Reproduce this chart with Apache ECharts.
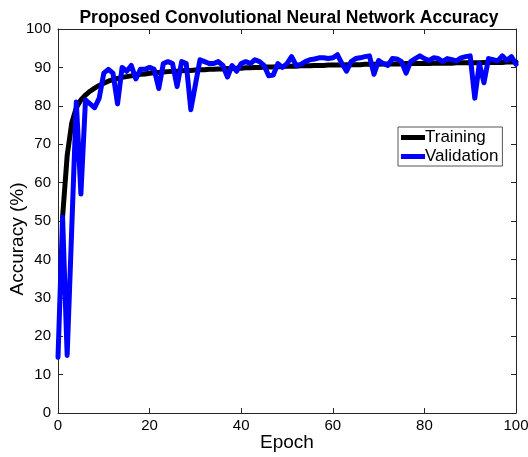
<!DOCTYPE html>
<html>
<head>
<meta charset="utf-8">
<script src="https://cdn.jsdelivr.net/npm/echarts@6/dist/echarts.min.js"></script>
<style>html,body{margin:0;padding:0;background:#fff}#c{width:528px;height:457px}</style>
</head>
<body>
<div id="c"></div>
<script>
const titleText = 'Proposed Convolutional Neural Network Accuracy';
const xLabel = 'Epoch';
const yLabel = 'Accuracy (%)';
const seriesNames = ['Training', 'Validation'];

// Training accuracy, epochs 1..100
const trainEpochStart = 1;
const training = [
  51, 67, 75.5, 79.5, 81.5, 82.8, 83.8, 84.6, 85.3, 85.9,
  86.4, 86.8, 87.1, 87.4, 87.6, 87.8, 88.0, 88.2, 88.3, 88.5,
  88.6, 88.7, 88.8, 88.9, 89.0, 89.0, 89.1, 89.2, 89.2, 89.3,
  89.4, 89.4, 89.5, 89.5, 89.6, 89.6, 89.7, 89.7, 89.8, 89.8,
  89.9, 89.9, 90.0, 90.0, 90.1, 90.1, 90.1, 90.2, 90.2, 90.3,
  90.3, 90.3, 90.4, 90.4, 90.4, 90.5, 90.5, 90.5, 90.6, 90.6,
  90.6, 90.6, 90.7, 90.7, 90.7, 90.7, 90.8, 90.8, 90.8, 90.8,
  90.9, 90.9, 90.9, 90.9, 90.9, 91.0, 91.0, 91.0, 91.0, 91.0,
  91.0, 91.1, 91.1, 91.1, 91.1, 91.1, 91.2, 91.2, 91.2, 91.2,
  91.2, 91.2, 91.3, 91.3, 91.3, 91.3, 91.3, 91.4, 91.4, 91.4
];

// Validation accuracy, epochs 0..100
const valEpochStart = 0;
const validation = [
  14.5,
  51, 15, 48, 81, 57, 81.5, 80.5, 79.5, 82, 88.5,
  89.5, 88.5, 80.5, 90, 89, 90.5, 87, 89.5, 89.5, 90,
  89.5, 84.5, 91, 91.5, 91, 85, 91.5, 91, 79, 85.5,
  92, 91.5, 91, 91, 91.5, 90.5, 87.5, 90.5, 89, 91,
  91.5, 91, 92, 91.5, 90.5, 87.8, 88, 91, 90, 91,
  92.8, 90.5, 90.8, 91.5, 92, 92.2, 92.5, 92.5, 92.3, 92.5,
  93.3, 91, 89, 91.5, 92.3, 92.5, 92.8, 93, 88.2, 91.8,
  91, 90.5, 92.3, 92.2, 91.5, 88.5, 91.5, 92.3, 93, 92.3,
  91.8, 92.5, 92.3, 91.5, 92.3, 92, 91.7, 92.5, 92.8, 93,
  82, 91, 86, 92.3, 92, 91.7, 93, 91.8, 92.8, 90.8
];

const xTicks = [0, 20, 40, 60, 80, 100];
const yTicks = [0, 10, 20, 30, 40, 50, 60, 70, 80, 90, 100];

const trainData = training.map((v, i) => [trainEpochStart + i, v]);
const valData = validation.map((v, i) => [valEpochStart + i, v]);

const font = 'Liberation Sans, Arial, Helvetica, sans-serif';
const axisCol = '#262626';

const chart = echarts.init(document.getElementById('c'), null, {renderer: 'canvas'});
const baseAxis = {
  type: 'value',
  axisLine: {show: true, onZero: false, lineStyle: {color: axisCol, width: 1}},
  axisTick: {show: true, inside: true, length: 5, lineStyle: {color: axisCol}},
  splitLine: {show: false},
};
chart.setOption({
  animation: false,
  backgroundColor: '#fff',
  title: {
    text: titleText,
    left: 284, textAlign: 'center', top: 4,
    textStyle: {fontFamily: font, fontWeight: 'bold', fontSize: 17.5, color: '#000'}
  },
  legend: {
    data: seriesNames,
    orient: 'vertical',
    left: 398, top: 127,
    itemWidth: 24, itemHeight: 5, itemGap: 2,
    icon: 'rect',
    borderColor: '#555', borderWidth: 1, padding: [2, 4, 1, 3],
    backgroundColor: '#fff',
    textStyle: {fontFamily: font, fontSize: 17, color: '#000', padding: [0, 0, 0, -5]}
  },
  grid: {left: 58, right: 12, top: 29, bottom: 44, containLabel: false, outerBoundsMode: 'none'},
  xAxis: [
    Object.assign({}, baseAxis, {
      min: 0, max: 100, interval: 20, position: 'bottom',
      name: xLabel, nameLocation: 'middle', nameGap: 20, nameMoveOverlap: false,
      nameTextStyle: {fontFamily: font, fontSize: 19, color: '#000'},
      axisLabel: {fontFamily: font, fontSize: 15, color: '#000', margin: 5}
    }),
    Object.assign({}, baseAxis, {
      min: 0, max: 100, interval: 20, position: 'top',
      axisLabel: {show: false}
    })
  ],
  yAxis: [
    Object.assign({}, baseAxis, {
      min: 0, max: 100, interval: 10, position: 'left',
      name: yLabel, nameLocation: 'middle', nameGap: 31, nameMoveOverlap: false,
      nameTextStyle: {fontFamily: font, fontSize: 19, color: '#000', padding: [0, 36, 0, 0]},
      axisLabel: {fontFamily: font, fontSize: 15, color: '#000', margin: 7}
    }),
    Object.assign({}, baseAxis, {
      min: 0, max: 100, interval: 10, position: 'right',
      axisLabel: {show: false}
    })
  ],
  series: [
    {
      name: seriesNames[0], type: 'line', data: trainData,
      xAxisIndex: 0, yAxisIndex: 0,
      showSymbol: false, symbol: 'none', smooth: false,
      lineStyle: {color: '#000', width: 5, join: 'round', cap: 'round'},
      itemStyle: {color: '#000'}, z: 2
    },
    {
      name: seriesNames[1], type: 'line', data: valData,
      xAxisIndex: 0, yAxisIndex: 0,
      showSymbol: false, symbol: 'none', smooth: false,
      lineStyle: {color: '#0000ff', width: 5, join: 'round', cap: 'round'},
      itemStyle: {color: '#0000ff'}, z: 3
    }
  ]
});
</script>
</body>
</html>
